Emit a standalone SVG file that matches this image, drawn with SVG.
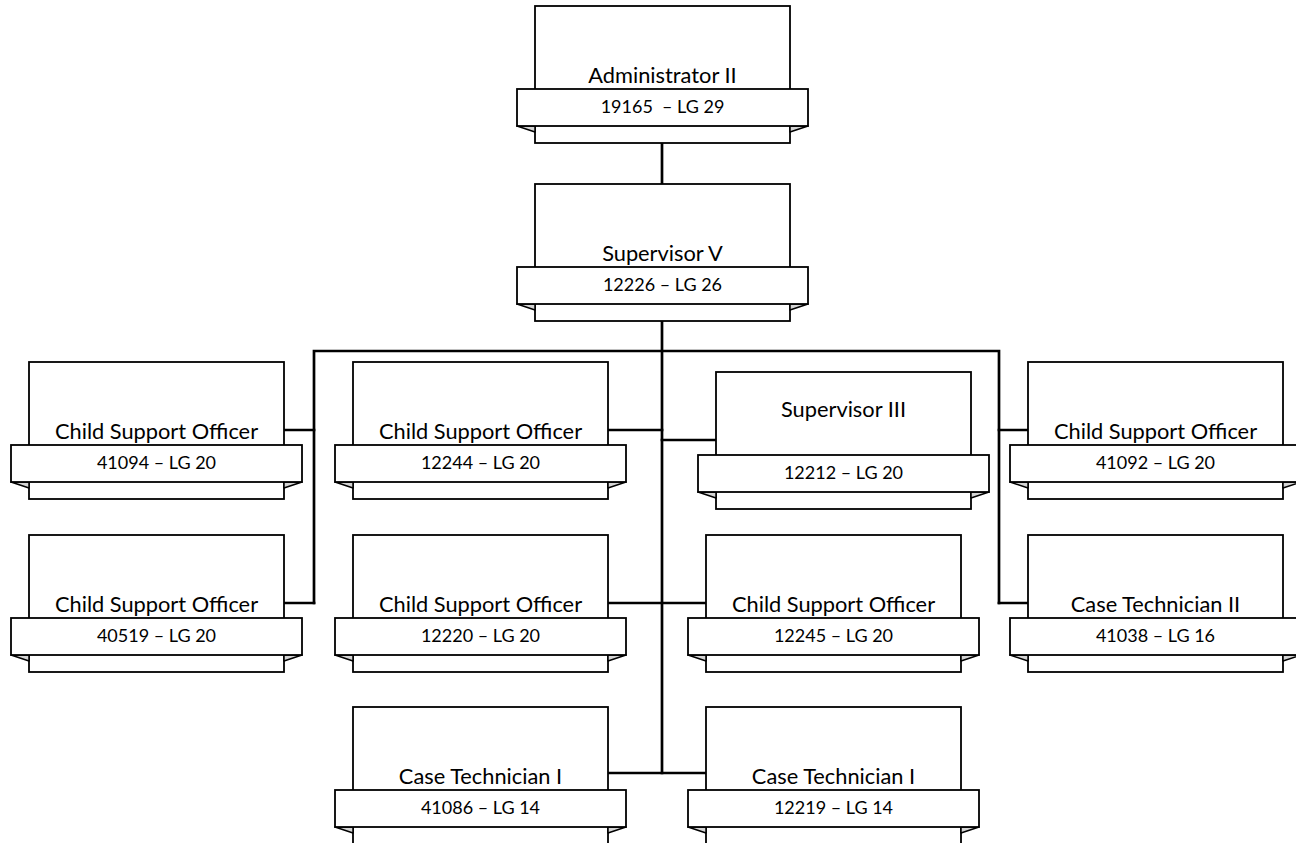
<svg xmlns="http://www.w3.org/2000/svg" width="1296" height="843" viewBox="0 0 1296 843">
<style>
.box{fill:#fff;stroke:#000;stroke-width:1.8}
.ban{fill:#fff;stroke:#000;stroke-width:1.8}
.fold{fill:#d4d4d4;stroke:#000;stroke-width:1.5;stroke-linejoin:round}
.t{font-family:Lato,"Open Sans","Liberation Sans",sans-serif;font-size:21.8px;fill:#000;text-anchor:middle;white-space:pre}
.n{font-family:Lato,"Open Sans","Liberation Sans",sans-serif;font-size:18px;fill:#000;text-anchor:middle;white-space:pre}
.c{fill:none;stroke:#000;stroke-width:2.7;stroke-linejoin:miter;stroke-linecap:square}
</style>
<defs>
<g id="shape">
<rect class="box" x="0" y="0" width="255" height="137"/>
<polygon class="fold" points="-18,120 0,120 0,126"/>
<polygon class="fold" points="273,120 255,120 255,126"/>
<rect class="ban" x="-18" y="83" width="291" height="37"/>
</g>
</defs>
<g id="connectors">
<path class="c" d="M662,143 V184"/>
<path class="c" d="M662,321 V773"/>
<path class="c" d="M314,603 V351 H999 V603"/>
<path class="c" d="M284,430 H314 M284,603 H314"/>
<path class="c" d="M999,430 H1028 M999,603 H1028"/>
<path class="c" d="M607,430 H662 M662,440 H716"/>
<path class="c" d="M607,603 H706"/>
<path class="c" d="M607,773 H706"/>
</g>
<g id="n1" transform="translate(535,6)"><use href="#shape"/><text class="t" x="127.5" y="77">Administrator II</text><text class="n" x="127.5" y="107">19165  – LG 29</text></g>
<g id="n2" transform="translate(535,184)"><use href="#shape"/><text class="t" x="127.5" y="77">Supervisor V</text><text class="n" x="127.5" y="107">12226 – LG 26</text></g>
<g id="n3" transform="translate(29,362)"><use href="#shape"/><text class="t" x="127.5" y="77">Child Support Officer</text><text class="n" x="127.5" y="107">41094 – LG 20</text></g>
<g id="n4" transform="translate(353,362)"><use href="#shape"/><text class="t" x="127.5" y="77">Child Support Officer</text><text class="n" x="127.5" y="107">12244 – LG 20</text></g>
<g id="n5" transform="translate(716,372)"><use href="#shape"/><text class="t" x="127.5" y="45">Supervisor III</text><text class="n" x="127.5" y="107">12212 – LG 20</text></g>
<g id="n6" transform="translate(1028,362)"><use href="#shape"/><text class="t" x="127.5" y="77">Child Support Officer</text><text class="n" x="127.5" y="107">41092 – LG 20</text></g>
<g id="n7" transform="translate(29,535)"><use href="#shape"/><text class="t" x="127.5" y="77">Child Support Officer</text><text class="n" x="127.5" y="107">40519 – LG 20</text></g>
<g id="n8" transform="translate(353,535)"><use href="#shape"/><text class="t" x="127.5" y="77">Child Support Officer</text><text class="n" x="127.5" y="107">12220 – LG 20</text></g>
<g id="n9" transform="translate(706,535)"><use href="#shape"/><text class="t" x="127.5" y="77">Child Support Officer</text><text class="n" x="127.5" y="107">12245 – LG 20</text></g>
<g id="n10" transform="translate(1028,535)"><use href="#shape"/><text class="t" x="127.5" y="77">Case Technician II</text><text class="n" x="127.5" y="107">41038 – LG 16</text></g>
<g id="n11" transform="translate(353,707)"><use href="#shape"/><text class="t" x="127.5" y="77">Case Technician I</text><text class="n" x="127.5" y="107">41086 – LG 14</text></g>
<g id="n12" transform="translate(706,707)"><use href="#shape"/><text class="t" x="127.5" y="77">Case Technician I</text><text class="n" x="127.5" y="107">12219 – LG 14</text></g>
</svg>
